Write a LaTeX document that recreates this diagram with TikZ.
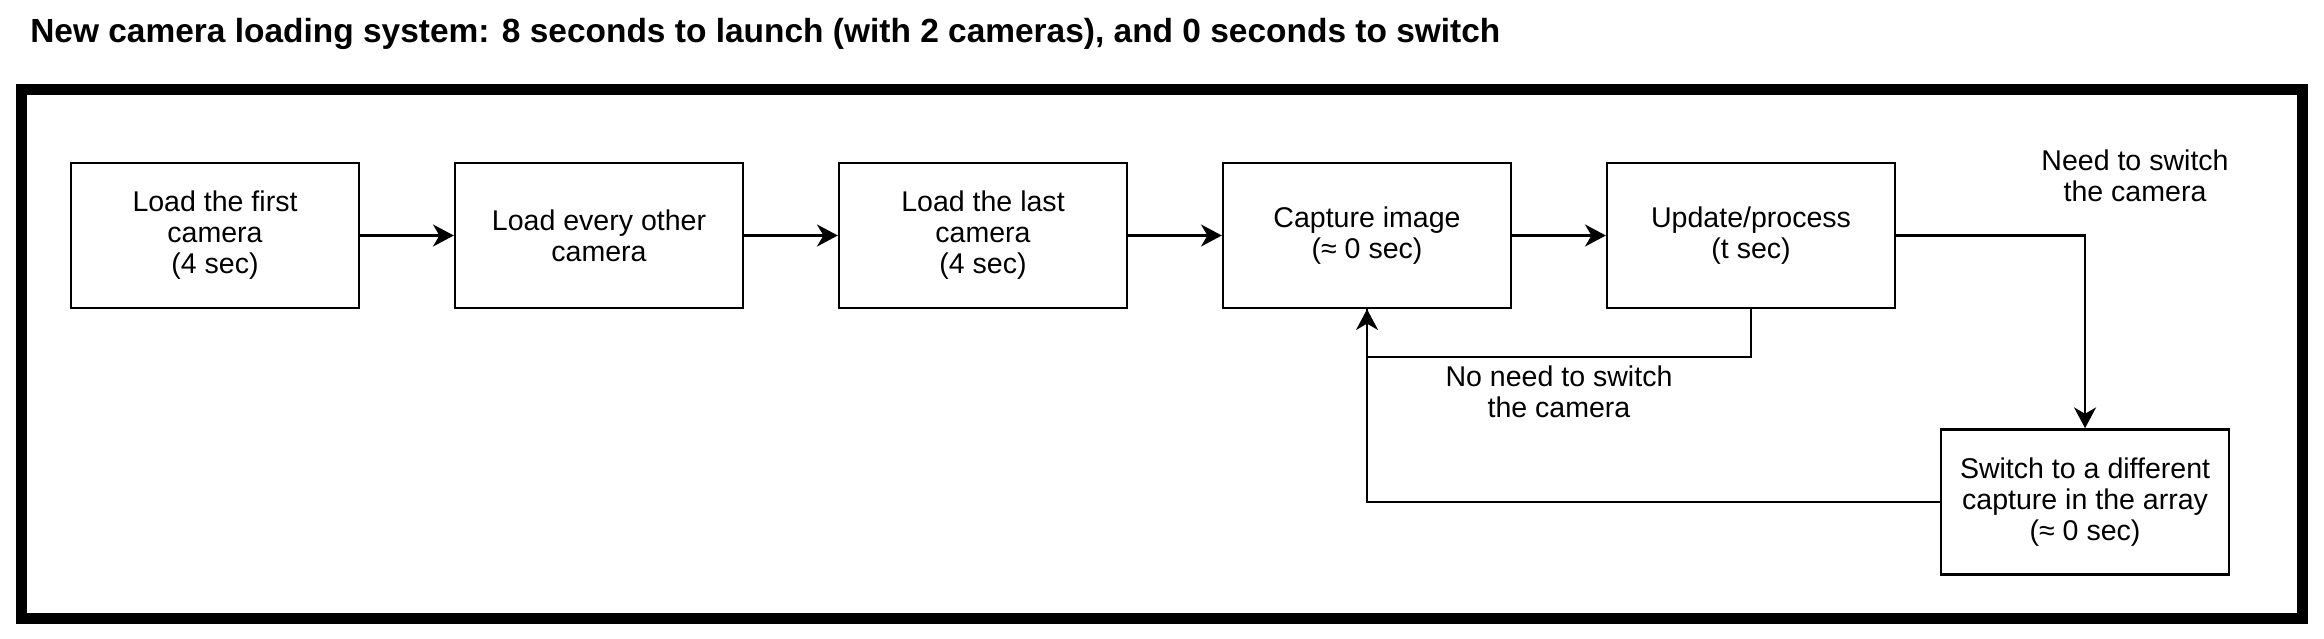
\documentclass[tikz,border=0pt]{standalone}
\usepackage{fontspec}
\setmainfont{Liberation Sans}
\usepackage{tikz}
\usetikzlibrary{positioning,arrows.meta}

\begin{document}
\begin{tikzpicture}[
  x=0.25mm, y=-0.25mm,
  font=\fontsize{20.3}{22}\selectfont,
  box/.style={draw, line width=0.6mm, minimum width=72mm, minimum height=36.25mm, align=center, inner sep=0pt},
  arrow/.style={-{Stealth[length=5.2mm, width=5.5mm, inset=1.6mm]}, line width=0.6mm},
  link/.style={line width=0.6mm}
]
\useasboundingbox (0,0) rectangle (2324,638);
\draw[line width=2.75mm] (21.5,89.5) rectangle (2302.5,618.5);
\node[anchor=base west, inner sep=0pt, font=\bfseries\fontsize{23.8}{26}\selectfont] (title) at (30,42)
  {New camera loading system: 8 seconds to launch (with 2 cameras), and 0 seconds to switch};

\node[box] (first) at (215,235.5) {Load the first\\camera\\(4 sec)};
\node[box, right=23.4mm of first] (every) {Load every other\\camera};
\node[box, right=23.4mm of every] (last) {Load the last\\camera\\(4 sec)};
\node[box, right=23.4mm of last] (capture) {Capture image\\(≈ 0 sec)};
\node[box, right=23.4mm of capture] (update) {Update/process\\(t sec)};
\node[box, below=29.75mm of update, xshift=83.5mm] (switch) {Switch to a different\\capture in the array\\(≈ 0 sec)};

\node[align=center] (needlbl) at (2135,176) {Need to switch\\the camera};
\node[align=center] (noneedlbl) at (1559,392) {No need to switch\\the camera};

\draw[arrow] (first) -- (every);
\draw[arrow] (every) -- (last);
\draw[arrow] (last) -- (capture);
\draw[arrow] (capture) -- (update);
\draw[arrow] (update.east) -| (switch.north);
\draw[arrow] (update.south) -- ++(0,48) -| (capture.south);
\draw[link] (switch.west) -| (capture.south);
\end{tikzpicture}
\end{document}
